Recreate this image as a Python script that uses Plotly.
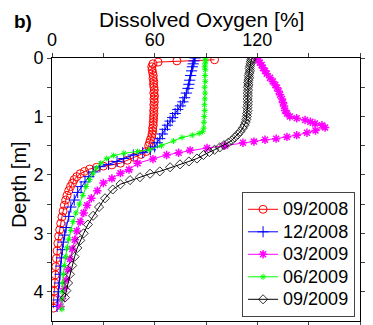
import plotly.graph_objects as go

labels = ["09/2008", "12/2008", "03/2009", "06/2009", "09/2009"]

do_0908 = [95, 73, 62, 59, 58.3, 58.5, 58.8, 59.2, 59, 59.5, 59.3, 59.6, 59.8, 59.5, 59.9, 59.6, 59.8, 59.5, 59.7,
           59.4, 59.6, 59.3, 59.4, 59.1, 59.2, 58.8, 58.9, 58.5, 58.2, 57.5, 57, 56.5, 55, 52, 48, 44, 40, 35, 30,
           26, 22, 19, 16.5, 14.5, 13, 12, 10.8, 9.8, 8.8, 8, 7.2, 6.5, 5.8, 5.1, 4.5, 3.9, 3.4, 3, 2.6, 2.2, 1.9,
           1.6, 1.3, 1.0, 0.8]
z_0908 = [0.03, 0.05, 0.07, 0.1, 0.15, 0.2, 0.25, 0.3, 0.35, 0.4, 0.45, 0.5, 0.55, 0.6, 0.65, 0.7, 0.75, 0.8, 0.85,
          0.9, 0.95, 1.0, 1.05, 1.1, 1.15, 1.2, 1.25, 1.3, 1.35, 1.4, 1.45, 1.5, 1.6, 1.65, 1.7, 1.75, 1.8, 1.83, 1.85,
          1.87, 1.9, 1.94, 1.98, 2.03, 2.08, 2.14, 2.2, 2.27, 2.35, 2.43, 2.52, 2.62, 2.72, 2.83, 2.94, 3.05, 3.17,
          3.3, 3.43, 3.57, 3.71, 3.85, 3.99, 4.13, 4.28]

do_1208 = [83.6, 83, 82.5, 82, 81.6, 81, 80.5, 80, 79.5, 78.5, 77.5, 76.5, 75, 73.5, 72, 70.5, 69, 67.5, 66, 64.5,
           63, 61.5, 60, 57.5, 53, 47.5, 42, 38, 33, 28, 24, 21.5, 19.3, 17, 15, 13, 11, 9.8, 8.2, 7.4, 6.6, 6,
           5.5, 5.1, 4.7, 4.3, 3.9, 3.5, 3.0]
z_1208 = [0.0, 0.05, 0.1, 0.15, 0.22, 0.3, 0.38, 0.45, 0.52, 0.6, 0.68, 0.75, 0.82, 0.88, 0.95, 1.02, 1.08, 1.15,
          1.22, 1.3, 1.38, 1.45, 1.52, 1.57, 1.62, 1.66, 1.72, 1.77, 1.82, 1.86, 1.95, 2.03, 2.12, 2.2, 2.3, 2.43,
          2.55, 2.71, 2.9, 3.03, 3.15, 3.28, 3.42, 3.56, 3.7, 3.85, 4.0, 4.14, 4.25]

do_0309 = [119.8, 120.5, 121.5, 122.5, 123.3, 124.5, 125.5, 127.4, 129, 130.5, 131.5, 132.5, 133.3, 134.4, 135,
           135.6, 136.2, 137.3, 139, 143, 147.9, 151, 153.7, 157.8, 159.6, 154, 149, 143, 137.3, 131, 124.5, 118,
           111.6, 101, 90.6, 80.7, 74, 67, 59, 50, 45, 40, 35, 30, 26.5, 23, 20.5, 18.5, 16.5, 14.5, 13.3, 11.8,
           10.5, 9.3, 8.2, 7.2, 6, 5]
z_0309 = [0.0, 0.04, 0.08, 0.12, 0.17, 0.22, 0.27, 0.34, 0.4, 0.46, 0.51, 0.57, 0.63, 0.7, 0.76, 0.82, 0.9, 0.95,
          1.0, 1.03, 1.06, 1.09, 1.12, 1.15, 1.19, 1.24, 1.28, 1.32, 1.35, 1.38, 1.4, 1.43, 1.45, 1.5, 1.54, 1.58,
          1.62, 1.66, 1.73, 1.8, 1.91, 1.97, 2.06, 2.14, 2.27, 2.4, 2.52, 2.65, 2.8, 2.96, 3.11, 3.27, 3.44, 3.62,
          3.8, 3.95, 4.12, 4.25]

do_0609 = [89.5, 89.8, 89.5, 89.2, 89.6, 89.4, 89.6, 89.2, 89.5, 89.3, 89.1, 89.3, 89, 88.8, 88.7, 88, 86, 82, 76,
           71, 64, 57, 50, 42, 36, 32, 28.5, 26, 24, 22, 20, 18, 16, 14, 12.3, 11, 9.8, 8.8, 8, 7.2, 6.6, 6.2, 6,
           5.8, 5.8]
z_0609 = [0.0, 0.05, 0.1, 0.15, 0.2, 0.3, 0.4, 0.5, 0.6, 0.7, 0.8, 0.9, 1.0, 1.1, 1.2, 1.26, 1.29, 1.32, 1.36,
          1.42, 1.5, 1.57, 1.6, 1.63, 1.67, 1.72, 1.8, 1.88, 1.97, 2.08, 2.2, 2.35, 2.5, 2.65, 2.8, 2.95, 3.1, 3.25,
          3.4, 3.55, 3.7, 3.85, 4.0, 4.12, 4.3]

do_0909 = [116.9, 116.5, 116.2, 116, 115.7, 115.5, 115.7, 115.3, 115, 115.2, 114.8, 114.6, 114.8, 114.5, 114.6,
           114.4, 114.5, 114.3, 114.5, 114.4, 114.2, 114.3, 114, 113.9, 113.6, 113.2, 112.5, 111.5, 110, 108.5,
           106.8, 105, 103, 100.5, 98, 95, 92, 88.5, 84.7, 80, 74.8, 69, 63, 57.3, 51.4, 45.6, 40, 35.5, 31, 27.5,
           24, 21, 18.5, 16.5, 14.8, 13.2, 11.8, 10.5, 9.4, 8.4, 7.6]
z_0909 = [0.0, 0.03, 0.06, 0.1, 0.14, 0.18, 0.22, 0.26, 0.3, 0.34, 0.38, 0.42, 0.46, 0.5, 0.55, 0.6, 0.65, 0.7,
          0.75, 0.8, 0.85, 0.9, 0.95, 1.0, 1.05, 1.1, 1.15, 1.2, 1.26, 1.31, 1.36, 1.41, 1.45, 1.49, 1.53, 1.57,
          1.61, 1.66, 1.72, 1.77, 1.82, 1.87, 1.94, 1.98, 2.04, 2.09, 2.16, 2.25, 2.4, 2.55, 2.7, 2.85, 3.0, 3.12,
          3.25, 3.4, 3.55, 3.7, 3.85, 3.98, 4.1]

series = [
    (do_0908, z_0908, "#FF0000", "circle-open", 8, 1),
    (do_1208, z_1208, "#0000FF", "cross-thin-open", 8, 1),
    (do_0309, z_0309, "#FF00FF", "asterisk-open", 7, 1.5),
    (do_0609, z_0609, "#00FF00", "asterisk-open", 5, 1),
    (do_0909, z_0909, "#000000", "diamond-open", 7, 0.8),
]

fig = go.Figure()
for (x, z, col, sym, sz, lw), name in zip(series, labels):
    fig.add_trace(go.Scatter(
        x=x, y=z, name='<span style="font-size:18px">' + name + '</span>', mode="lines+markers",
        line=dict(color=col, width=1),
        marker=dict(symbol=sym, size=sz, color=col, line=dict(color=col, width=lw)),
    ))

font = "Liberation Sans, Arial, sans-serif"
fig.update_layout(
    width=373, height=325, autosize=False,
    margin=dict(l=52, r=13, t=58, b=4),
    paper_bgcolor="white", plot_bgcolor="white",
    font=dict(family=font, size=18, color="black"),
    showlegend=True,
    legend=dict(x=0.984, y=0.015, xanchor="right", yanchor="bottom",
                bordercolor="#444", borderwidth=1, bgcolor="white",
                font=dict(size=15), tracegroupgap=0, itemwidth=30),
    xaxis=dict(side="top", range=[0, 180], tickvals=[0, 60, 120, 180], ticks="outside", ticklen=4,
               showline=True, linecolor="black", linewidth=1, mirror="ticks", showgrid=False, zeroline=False,
               automargin=False,
               minor=dict(tickvals=[30, 90, 150], ticks="outside", ticklen=4, showgrid=False),
               tickfont=dict(size=18)),
    yaxis=dict(range=[4.5, 0], tickvals=[0, 1, 2, 3, 4], ticks="outside", ticklen=4,
               showline=True, linecolor="black", linewidth=1, mirror="ticks", showgrid=False, zeroline=False,
               automargin=False,
               minor=dict(tickvals=[0.5, 1.5, 2.5, 3.5], ticks="outside", ticklen=4, showgrid=False),
               tickfont=dict(size=18)),
    annotations=[
        dict(text="Dissolved Oxygen [%]", x=0.487, y=1.1445, xref="paper", yref="paper",
             xanchor="center", yanchor="middle", showarrow=False, font=dict(size=21)),
        dict(text="<b>b)</b>", x=-0.094, y=1.137, xref="paper", yref="paper",
             xanchor="center", yanchor="middle", showarrow=False, font=dict(size=19)),
        dict(text="Depth [m]", x=-0.107, y=0.517, xref="paper", yref="paper", textangle=-90,
             xanchor="center", yanchor="middle", showarrow=False, font=dict(size=20)),
    ],
)

fig.write_html("out.html", config={"responsive": False, "displayModeBar": False},
               post_script="document.body.style.margin='0';document.body.style.overflow='hidden';")
